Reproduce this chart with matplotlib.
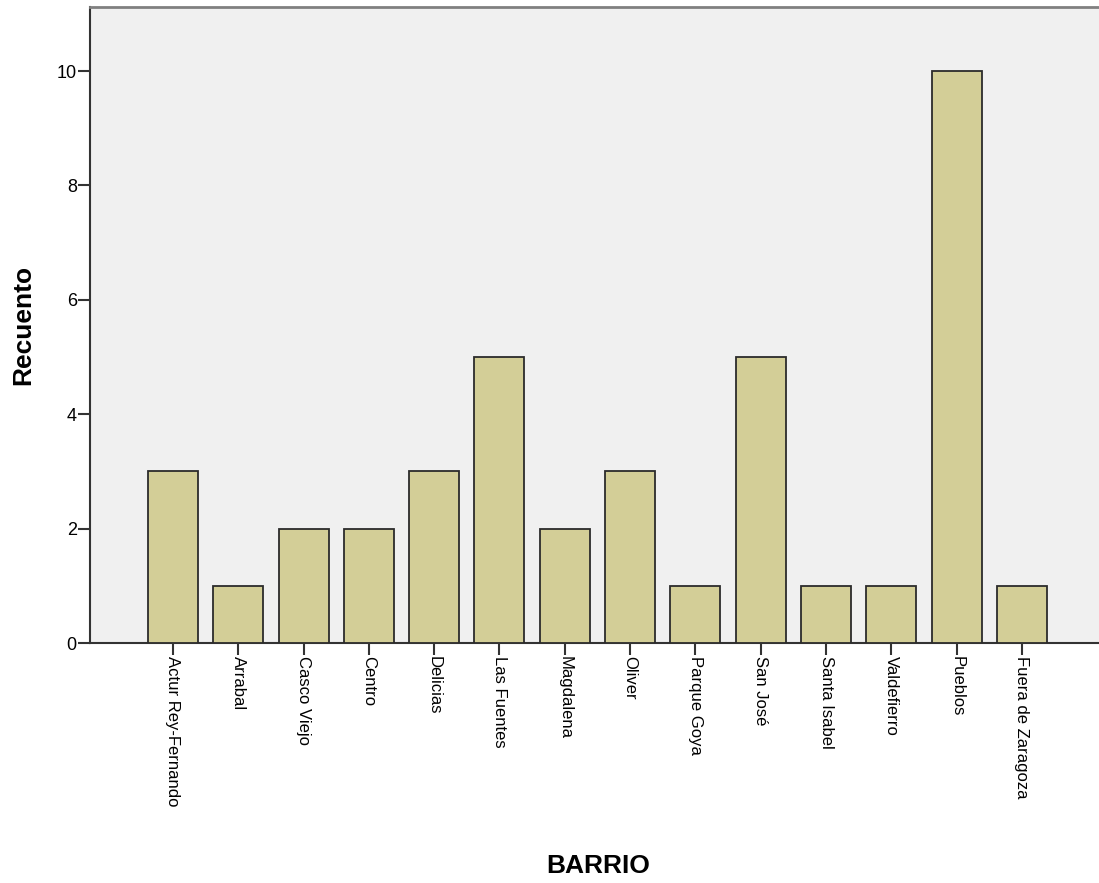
import matplotlib
matplotlib.use("Agg")
import matplotlib.pyplot as plt

plt.rcParams['font.family'] = ['Liberation Sans', 'DejaVu Sans']

categories = ["Actur Rey-Fernando", "Arrabal", "Casco Viejo", "Centro", "Delicias",
              "Las Fuentes", "Magdalena", "Oliver", "Parque Goya", "San José",
              "Santa Isabel", "Valdefierro", "Pueblos", "Fuera de Zaragoza"]
counts = [3, 1, 2, 2, 3, 5, 2, 3, 1, 5, 1, 1, 10, 1]
yticks = [0, 2, 4, 6, 8, 10]

fig = plt.figure(figsize=(10.99, 8.83), dpi=100)
ax = fig.add_axes([90/1099, 240/883, 1 - 90/1099, (643-7)/883])
ax.set_facecolor('#F0F0F0')

x = list(range(len(categories)))
ax.bar(x, counts, width=0.765, color='#D3CE97', edgecolor='#2b2b2b', linewidth=1.3, zorder=3)

ax.set_xlim(-1.27, 14.18)
ax.set_ylim(0, 11.12)
ax.set_yticks(yticks)
ax.set_yticklabels([str(v) for v in yticks], fontsize=13)
ax.set_xticks(x)
ax.set_xticklabels(categories, rotation=-90, fontsize=12, va='top', ha='center')
ax.tick_params(axis='both', direction='out', length=8.5, width=1.5, color='#333333', pad=1)

for s in ['left', 'bottom']:
    ax.spines[s].set_color('#333333')
    ax.spines[s].set_linewidth(1.5)
ax.spines['top'].set_color('#808080')
ax.spines['top'].set_linewidth(2)
ax.spines['right'].set_visible(False)

fig.text(23/1099, 1 - 325/883, 'Recuento', fontsize=19, fontweight='bold',
         rotation=90, ha='center', va='center')
fig.text(598/1099, 1 - 866/883, 'BARRIO', fontsize=19, fontweight='bold',
         ha='center', va='center')

fig.savefig('out.png', dpi=100)
